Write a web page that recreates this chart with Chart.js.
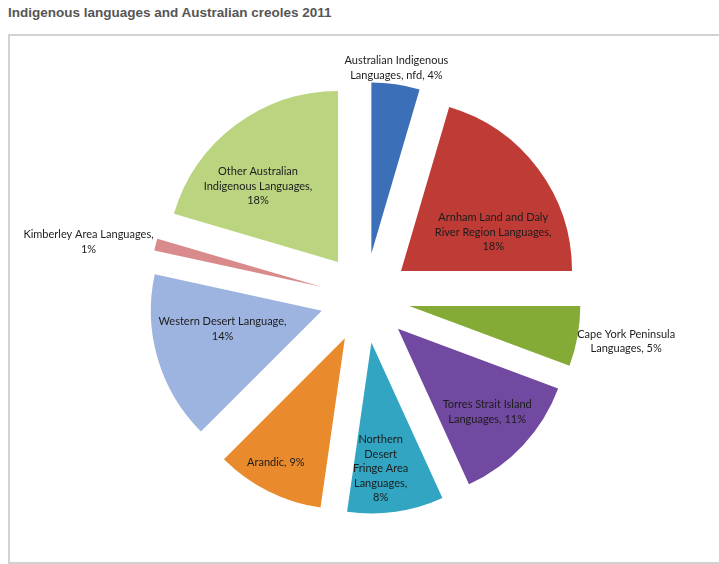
<!DOCTYPE html>
<html>
<head>
<meta charset="utf-8">
<script src="https://cdn.jsdelivr.net/npm/chart.js@4.4.1/dist/chart.umd.min.js"></script>
<style>
    html, body { margin: 0; padding: 0; background: #fff; }
    body { width: 719px; height: 564px; position: relative; overflow: hidden; }
    #title { position: absolute; left: 8px; top: 5px; font: bold 13.5px "Liberation Sans", Arial, sans-serif; color: #555; }
    #box { position: absolute; left: 8px; top: 34px; width: 740px; height: 526px; border: 2px solid #d2d2d2; }
    #wrap { position: absolute; left: 0; top: 0; width: 719px; height: 564px; }
</style>
</head>
<body>
<div id="title">Indigenous languages and Australian creoles 2011</div>
<div id="box"></div>
<div id="wrap"><canvas id="pie"></canvas></div>
<script>
// data, clockwise from 12 o'clock
const categories = [
    "Australian Indigenous Languages, nfd",
    "Arnham Land and Daly River Region Languages",
    "Cape York Peninsula Languages",
    "Torres Strait Island Languages",
    "Northern Desert Fringe Area Languages",
    "Arandic",
    "Western Desert Language",
    "Kimberley Area Languages",
    "Other Australian Indigenous Languages"
];
const shares = [4, 18, 5, 11, 8, 9, 14, 1, 18];

const colors = ["#3b70b8", "#bf3b36", "#83ab35", "#7249a0", "#32a5c2", "#e98a2c", "#9db3e0", "#d98b8b", "#bad480"];

// label placement: [radius factor, angle shift in degrees], wrap width
const labelPlace = [[1.094, -0.5], [0.585, 14], [1.285, -1], [0.713, 0], [0.74, 4], [0.83, 2.5], [0.59, 6], [1.387, -3.4], [0.645, -9.7]];
const wrapWidth = [118, 130, 112, 108, 62, 200, 135, 146, 124];
const explode = 45;
const labelFont = "11px Lato";
const lineHeight = 14.5;

function wrapText(ctx, text, maxW) {
    const words = text.split(" ");
    const lines = [];
    let line = "";
    words.forEach(w => {
        const test = line ? line + " " + w : w;
        if (line && ctx.measureText(test).width > maxW) {
            lines.push(line);
            line = w;
        } else {
            line = test;
        }
    });
    if (line) lines.push(line);
    return lines;
}

const explodePlugin = {
    id: "explode",
    beforeDatasetsDraw(chart) {
        chart.getDatasetMeta(0).data.forEach(arc => {
            const mid = (arc.startAngle + arc.endAngle) / 2;
            arc.baseX = arc.x;
            arc.baseY = arc.y;
            arc.x += Math.cos(mid) * explode;
            arc.y += Math.sin(mid) * explode;
        });
    },
    afterDatasetsDraw(chart) {
        const ctx = chart.ctx;
        ctx.save();
        ctx.font = labelFont;
        ctx.fillStyle = "#1c1c1c";
        ctx.textAlign = "center";
        ctx.textBaseline = "middle";
        chart.getDatasetMeta(0).data.forEach((arc, i) => {
            const [f, shift] = labelPlace[i];
            const a = (arc.startAngle + arc.endAngle) / 2 + shift * Math.PI / 180;
            const r = arc.outerRadius * f;
            const cx = arc.x + Math.cos(a) * r;
            const cy = arc.y + Math.sin(a) * r;
            const lines = wrapText(ctx, categories[i] + ", " + shares[i] + "%", wrapWidth[i]);
            const top = cy - (lines.length - 1) * lineHeight / 2;
            lines.forEach((l, k) => ctx.fillText(l, cx, top + k * lineHeight));
            arc.x = arc.baseX;
            arc.y = arc.baseY;
        });
        ctx.restore();
    }
};

const chart = new Chart(document.getElementById("pie").getContext("2d"), {
    type: "pie",
    data: {
        labels: categories,
        datasets: [{
            data: shares,
            backgroundColor: colors,
            borderWidth: 0,
            radius: 171
        }]
    },
    options: {
        responsive: true,
        maintainAspectRatio: false,
        animation: false,
        layout: { padding: { left: 11, right: 0, top: 32, bottom: 0 } },
        plugins: { legend: { display: false }, tooltip: { enabled: false } }
    },
    plugins: [explodePlugin]
});
</script>
</body>
</html>
